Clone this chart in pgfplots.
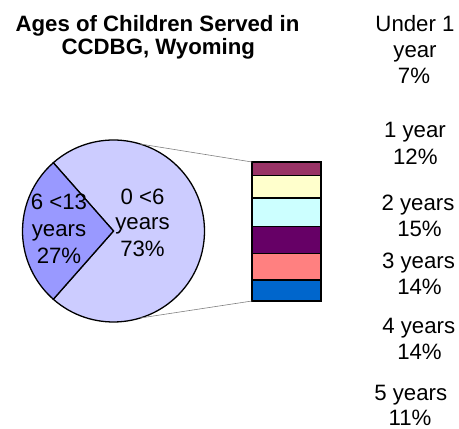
\documentclass[border=0pt]{standalone}
\usepackage{pgfplots}
\pgfplotsset{compat=1.18}
\usepackage{fontspec}
\setmainfont{Liberation Sans}

\definecolor{pieBig}{HTML}{CCCCFF}
\definecolor{pieSmall}{HTML}{9999FF}
\definecolor{cUnder}{HTML}{993366}
\definecolor{cOne}{HTML}{FFFFCC}
\definecolor{cTwo}{HTML}{CCFFFF}
\definecolor{cThree}{HTML}{660066}
\definecolor{cFour}{HTML}{FF8080}
\definecolor{cFive}{HTML}{0066CC}

% pie values (percent)
\def\pieYoung{73}
\def\pieOld{27}

% one text line, placed by its baseline centre (bp)
\newcommand\lbl[3]{\node[lab] at (#1bp,#2bp) {#3};}

\begin{document}
\begin{tikzpicture}[
    lab/.style={anchor=base,inner sep=0pt,font=\fontsize{22.3}{26}\selectfont}]
\path[use as bounding box] (0bp,0bp) rectangle (459bp,429bp);

% ---- pie ----
\begin{axis}[at={(113.5bp,198bp)}, anchor=center,
    width=182bp, height=182bp, scale only axis, hide axis,
    xmin=-1, xmax=1, ymin=-1, ymax=1, clip=false]
  \pgfmathsetmacro\half{360*\pieOld/100/2}
  \pgfmathsetmacro\aS{180-\half}
  \pgfmathsetmacro\aE{180+\half}
  \pgfmathsetmacro\aBig{360+\aS}
  \fill[pieBig, draw=black, line width=1.3pt]
    (axis cs:0,0) -- (axis cs:{cos(\aE)},{sin(\aE)})
    arc[start angle=\aE, end angle=\aBig, radius=91bp] -- cycle;
  \fill[pieSmall, draw=black, line width=1.3pt]
    (axis cs:0,0) -- (axis cs:{cos(\aS)},{sin(\aS)})
    arc[start angle=\aS, end angle=\aE, radius=91bp] -- cycle;
  \coordinate (ptop) at (axis cs:{cos(73)},{sin(73)});
  \coordinate (pbot) at (axis cs:{cos(-73)},{sin(-73)});
\end{axis}

% ---- bar of the 0<6 slice ----
\begin{axis}[at={(252bp,128bp)}, anchor=south west,
    width=69bp, height=139bp, scale only axis, hide axis,
    ybar stacked, bar width=1, xmin=0, xmax=1, ymin=0, ymax=73, clip=false]
  \addplot[fill=cFive, draw=black, line width=1.4pt] coordinates {(0.5,11)};
  \addplot[fill=cFour, draw=black, line width=1.4pt] coordinates {(0.5,14)};
  \addplot[fill=cThree, draw=black, line width=1.4pt] coordinates {(0.5,14)};
  \addplot[fill=cTwo, draw=black, line width=1.4pt] coordinates {(0.5,15)};
  \addplot[fill=cOne, draw=black, line width=1.4pt] coordinates {(0.5,12)};
  \addplot[fill=cUnder, draw=black, line width=1.4pt] coordinates {(0.5,7)};
  \coordinate (btop) at (axis cs:0,73);
  \coordinate (bbot) at (axis cs:0,0);
\end{axis}

\draw[gray, line width=0.6pt] (ptop) -- (btop);
\draw[gray, line width=0.6pt] (pbot) -- (bbot);

% ---- title ----
\begin{scope}[lab/.append style={font=\fontsize{22.3}{26}\selectfont\bfseries}]
\lbl{157.5}{397.3}{Ages of Children Served in}
\lbl{158.3}{374}{CCDBG, Wyoming}
\end{scope}

% ---- pie labels ----
\lbl{142.5}{224}{0 <6}
\lbl{142.5}{199}{years}
\lbl{142.5}{172.3}{73\%}
\lbl{59}{219}{6 <13}
\lbl{59}{192.3}{years}
\lbl{59}{165.7}{27\%}

% ---- bar labels ----
\lbl{415}{397.5}{Under 1}
\lbl{415}{371.5}{year}
\lbl{414}{345.7}{7\%}
\lbl{415}{291.7}{1 year}
\lbl{415.3}{264}{12\%}
\lbl{418}{218.3}{2 years}
\lbl{419.5}{192.3}{15\%}
\lbl{418.5}{160.7}{3 years}
\lbl{419.5}{134.7}{14\%}
\lbl{418.8}{95.7}{4 years}
\lbl{419.5}{69}{14\%}
\lbl{410.8}{28.5}{5 years}
\lbl{410}{4}{11\%}
\end{tikzpicture}
\end{document}
